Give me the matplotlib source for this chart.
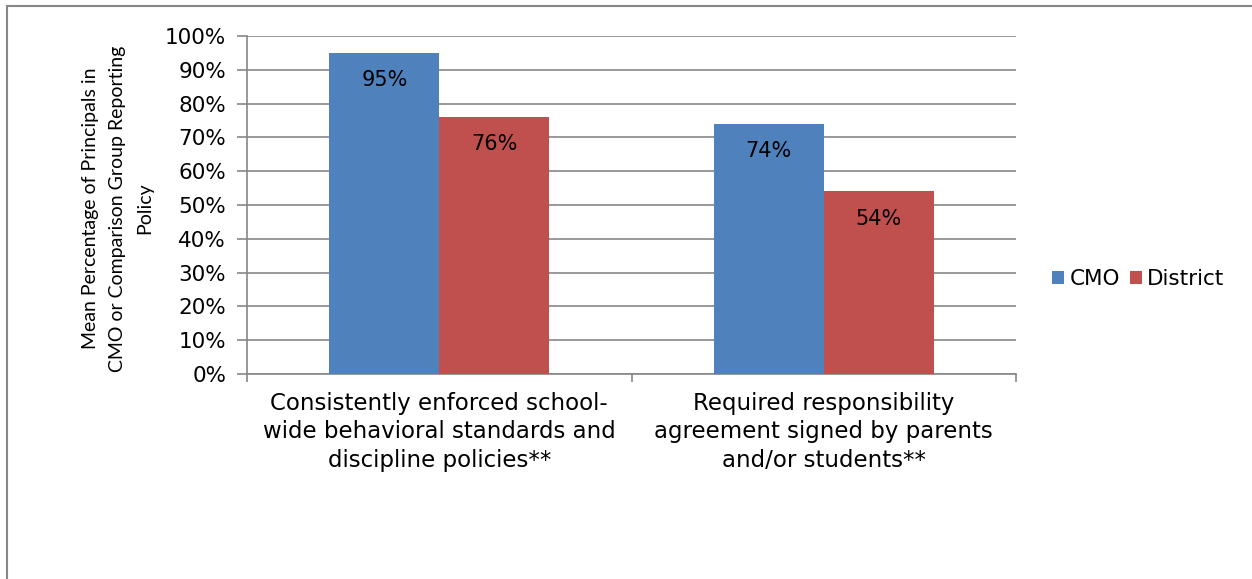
import matplotlib.pyplot as plt
import numpy as np
from matplotlib.patches import Rectangle
from matplotlib.ticker import PercentFormatter

categories = [
    "Consistently enforced school-\nwide behavioral standards and\ndiscipline policies**",
    "Required responsibility\nagreement signed by parents\nand/or students**",
]
series_names = ["CMO", "District"]
cmo = [95, 74]
district = [76, 54]
colors = ["#4F81BD", "#C0504D"]
grid_gray = "#868686"

plt.rcParams["font.family"] = "DejaVu Sans"

fig = plt.figure(figsize=(12.52, 5.79), dpi=100)
ax = fig.add_axes([247 / 1252, 1 - 374 / 579, 769 / 1252, 338 / 579])

# outer chart frame
fig.patches.append(Rectangle((7 / 1252, -0.1), 1.2, 1.1 - 6 / 579, transform=fig.transFigure,
                             fill=False, edgecolor=grid_gray, linewidth=1.5))

x = np.arange(len(categories))
width = 110 / 385
for i, (name, vals) in enumerate(zip(series_names, [cmo, district])):
    pos = x + (i - 0.5) * width
    bars = ax.bar(pos, vals, width, color=colors[i], label=name, zorder=3)
    for b, v in zip(bars, vals):
        ax.annotate(f"{v}%", (b.get_x() + b.get_width() / 2, v), xytext=(0, -19.5),
                    textcoords="offset points", ha="center", va="center", fontsize=15)

ax.set_xlim(-0.5, len(categories) - 0.5)
ax.set_ylim(0, 100)
ax.set_yticks(np.arange(0, 101, 10))
ax.yaxis.set_major_formatter(PercentFormatter(decimals=0))
ax.yaxis.grid(True, color=grid_gray, linewidth=1.2, zorder=0)
ax.set_axisbelow(True)

ax.set_xticks(np.arange(-0.5, len(categories)), minor=False)
ax.set_xticklabels([])
ax.set_xticks(x, minor=True)
ax.set_xticklabels(categories, minor=True, fontsize=16.5, linespacing=1.3)
ax.tick_params(axis="x", which="minor", length=0, pad=13)
ax.tick_params(axis="x", which="major", length=6, width=1.2, color=grid_gray, direction="out")
ax.tick_params(axis="y", length=7, width=1.2, color=grid_gray, labelsize=15.5, pad=8)

for side in ["top", "right"]:
    ax.spines[side].set_visible(False)
for side in ["left", "bottom"]:
    ax.spines[side].set_color(grid_gray)
    ax.spines[side].set_linewidth(1.2)

ax.set_ylabel("Mean Percentage of Principals in\nCMO or Comparison Group Reporting\nPolicy",
              fontsize=14, family="Lato", linespacing=1.72)
ax.yaxis.set_label_coords(-(247 - 153) / 769, 0.49)

ax.legend(loc="center left", bbox_to_anchor=(1.022, 0.28), ncol=2, frameon=False,
          fontsize=15.5, handlelength=0.55, handleheight=0.55, handletextpad=0.25,
          columnspacing=0.45)

fig.savefig("out.png", dpi=100)
